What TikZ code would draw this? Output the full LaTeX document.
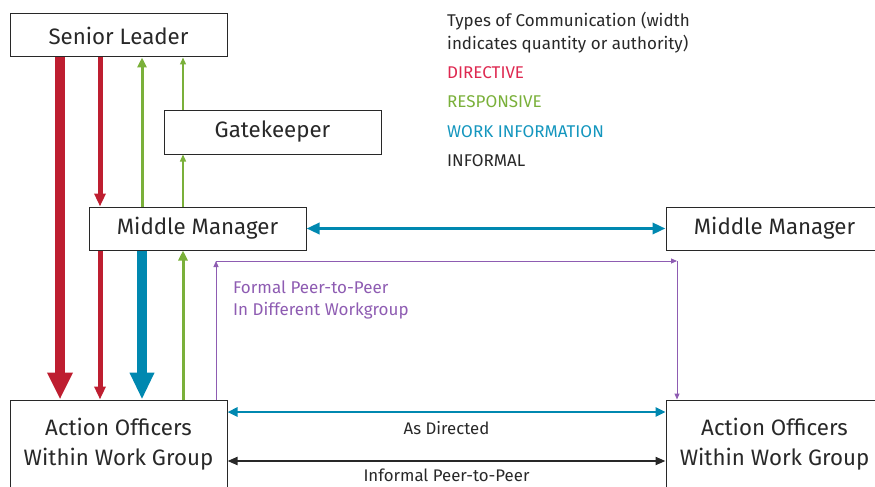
\documentclass[tikz,border=0pt]{standalone}
\usepackage{fontspec}
\setmainfont{Fira Sans}
\usetikzlibrary{arrows.meta,calc}
\definecolor{inkgray}{RGB}{40,40,40}
\definecolor{dirred}{RGB}{190,30,48}
\definecolor{dirtext}{RGB}{222,40,80}
\definecolor{respgreen}{RGB}{122,176,58}
\definecolor{workblue}{RGB}{0,136,176}
\definecolor{worktext}{RGB}{20,150,190}
\definecolor{peerpurple}{RGB}{142,92,178}
\tikzset{
  rolebox/.style={draw=inkgray,line width=1pt,fill=white,text=inkgray,
    minimum width=217pt,align=center,font=\fontsize{22.3}{30}\selectfont,inner sep=0pt},
  legendtext/.style={anchor=base west,inner sep=0pt,font=\fontsize{17}{20}\selectfont},
  smalltext/.style={anchor=base,inner sep=0pt,text=inkgray,font=\fontsize{16.8}{20}\selectfont},
  heavyred/.style={draw=dirred,line width=10pt,-{Triangle[width=24pt,length=27pt]}},
  lightred/.style={draw=dirred,line width=5pt,-{Triangle[width=11pt,length=13pt]}},
  midgreen/.style={draw=respgreen,line width=3pt,-{Triangle[width=9pt,length=10pt]}},
  thingreen/.style={draw=respgreen,line width=1.3pt,-{Triangle[width=6pt,length=7pt]}},
  heavyblue/.style={draw=workblue,line width=10pt,-{Triangle[width=23pt,length=27pt]}},
  midblue/.style={draw=workblue,line width=3.5pt,{Triangle[width=11pt,length=13pt]}-{Triangle[width=11pt,length=13pt]}},
  lightblue/.style={draw=workblue,line width=2.4pt,{Triangle[width=9pt,length=10pt]}-{Triangle[width=9pt,length=10pt]}},
  informal/.style={draw=inkgray,line width=2pt,{Triangle[width=8pt,length=10pt]}-{Triangle[width=8pt,length=10pt]}},
  purpleline/.style={draw=peerpurple,line width=1pt,-{Triangle[width=5pt,length=6pt]}}
}
\begin{document}
\begin{tikzpicture}[x=1pt,y=-1pt]
\useasboundingbox (0,0) rectangle (875,487);
\clip (0,0) rectangle (875,487);

% role boxes
\node[rolebox,minimum height=43pt] (sl) at (118.5,35.5) {Senior Leader};
\node[rolebox,minimum height=44pt] (gk) at (272.5,132) {Gatekeeper};
\node[rolebox,minimum height=43pt] (mml) at (197.5,228.5) {Middle Manager};
\node[rolebox,minimum height=43pt] (mmr) at (774.5,228.5) {Middle Manager};
\node[rolebox,minimum height=88pt] (aol) at (118.5,444) {Action Officers\\Within Work Group};
\node[rolebox,minimum height=88pt] (aor) at (774.5,444) {Action Officers\\Within Work Group};

% columns used by the vertical connectors
\coordinate (c1) at (60,0);
\coordinate (c2) at (100,0);
\coordinate (c3) at (142,0);
\coordinate (c4) at (183,0);
\coordinate (c5) at (216,0);
\coordinate (c6) at (677,0);
\coordinate (r1) at (0,412);
\coordinate (r2) at (0,461);
\coordinate (pk) at (0,261);

% directive
\draw[heavyred] (sl.south -| c1) -- (aol.north -| c1);
\draw[lightred] (sl.south -| c2) -- (mml.north -| c2);
\draw[lightred] (mml.south -| c2) -- (aol.north -| c2);

% responsive
\draw[midgreen] (mml.north -| c3) -- (sl.south -| c3);
\draw[thingreen] (gk.north -| c4) -- (sl.south -| c4);
\draw[thingreen] (mml.north -| c4) -- (gk.south -| c4);
\draw[midgreen] (aol.north -| c4) -- (mml.south -| c4);

% work information
\draw[heavyblue] (mml.south -| c3) -- (aol.north -| c3);
\draw[midblue] (mml.east) -- (mmr.west);
\draw[lightblue] (aol.east |- r1) -- (aor.west |- r1);

% informal
\draw[informal] (aol.east |- r2) -- (aor.west |- r2);

% formal peer-to-peer across workgroups
\coordinate (pa) at (pk -| c5);
\coordinate (pb) at (pk -| c6);
\draw[purpleline] (aol.north -| c5) -- (pa);
\draw[purpleline] (pa) -- (pb);
\draw[purpleline] (pb) -- (aor.north -| c6);

% connector labels
\node[legendtext,text=peerpurple] (fp1) at (233,293) {Formal Peer-to-Peer};
\node[legendtext,text=peerpurple] (fp2) at (233,315) {In Different Workgroup};
\node[smalltext] (asd) at (446.5,434) {As Directed};
\node[smalltext] (inf) at (446.5,481) {Informal Peer-to-Peer};

% legend
\node[legendtext,text=inkgray] (lg1) at (447,27) {Types of Communication (width};
\node[legendtext,text=inkgray] (lg2) at (447,50) {indicates quantity or authority)};
\node[legendtext,text=dirtext] (lg3) at (447,78) {DIRECTIVE};
\node[legendtext,text=respgreen] (lg4) at (447,107) {RESPONSIVE};
\node[legendtext,text=worktext] (lg5) at (447,137) {WORK INFORMATION};
\node[legendtext,text=inkgray] (lg6) at (447,166) {INFORMAL};
\end{tikzpicture}
\end{document}
